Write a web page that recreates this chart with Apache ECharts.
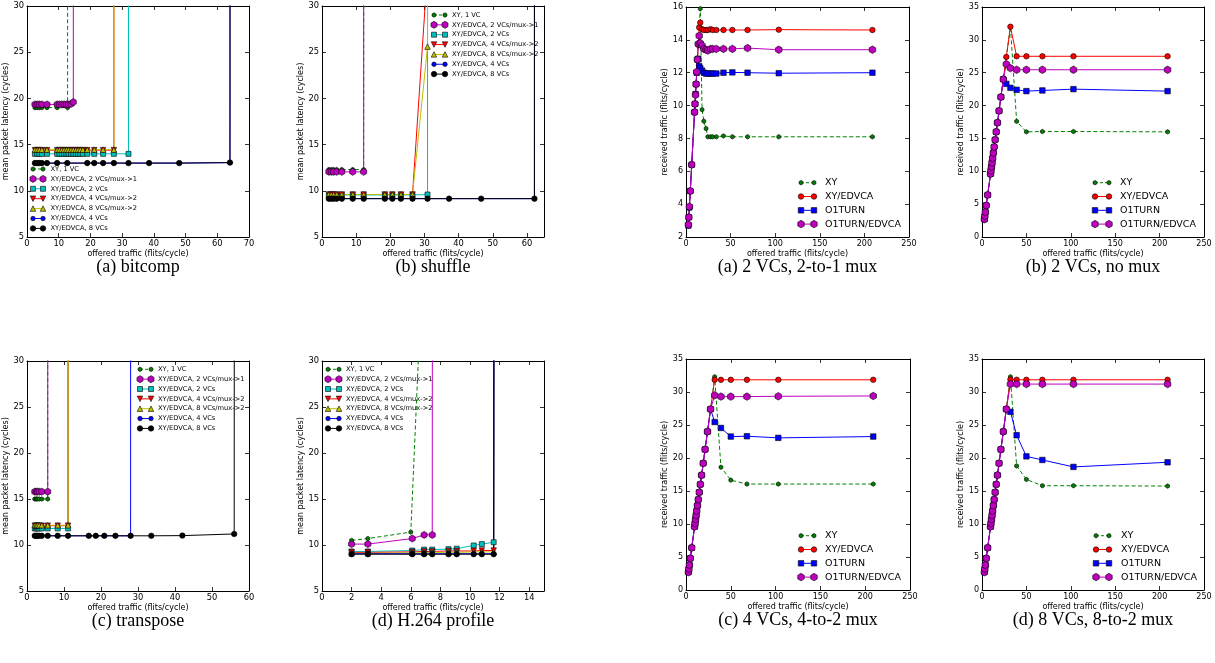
<!DOCTYPE html>
<html><head><meta charset="utf-8">
<script src="https://cdn.jsdelivr.net/npm/echarts@6/dist/echarts.min.js"></script>
<style>html,body{margin:0;padding:0;background:#fff}#c{width:1215px;height:663px}</style>
</head><body><div id="c"></div>
<script>
// ---------------- DATA ----------------
// Latency panels: [offered traffic, mean packet latency]; a huge latency marks saturation
const bitcompXY1   = [[2.5,19.0],[3.2,19.0],[3.9,19.0],[4.7,19.0],[6.3,19.0],[9.5,19.0],[12.8,19.0],[12.85,200]];
const bitcompMux1  = [[2.5,19.35],[3.2,19.35],[3.9,19.35],[4.7,19.35],[6.3,19.35],[9.5,19.35],[10.2,19.35],[11.0,19.35],[11.7,19.35],[12.4,19.35],[13.1,19.35],[13.9,19.4],[14.6,19.6],[14.7,200]];
const bitcompVC2   = [[2.5,14.0],[3.2,14.0],[3.9,14.0],[4.7,14.0],[6.3,14.0],[9.5,14.0],[10.2,14.0],[11.0,14.0],[11.7,14.0],[12.4,14.0],[13.1,14.0],[13.9,14.0],[14.6,14.0],[15.4,14.0],[16.1,14.0],[16.8,14.0],[17.6,14.0],[19.0,14.0],[21.2,14.0],[24.0,14.0],[27.4,14.0],[32.0,14.0],[32.05,200]];
const bitcompMux42 = [[2.5,14.4],[3.2,14.4],[3.9,14.4],[4.7,14.4],[6.3,14.4],[9.5,14.4],[10.2,14.4],[11.0,14.4],[11.7,14.4],[12.4,14.4],[13.1,14.4],[13.9,14.4],[14.6,14.4],[15.4,14.4],[16.1,14.4],[16.8,14.4],[17.6,14.4],[19.0,14.4],[21.2,14.4],[24.0,14.4],[27.4,14.4],[27.45,200]];
const bitcompMux82 = [[2.5,14.45],[3.2,14.45],[3.9,14.45],[4.7,14.45],[6.3,14.45],[9.5,14.45],[10.2,14.45],[11.0,14.45],[11.7,14.45],[12.4,14.45],[13.1,14.45],[13.9,14.45],[14.6,14.45],[15.4,14.45],[16.1,14.45],[16.8,14.45],[17.6,14.45],[19.0,14.45],[21.2,14.45],[24.0,14.45],[27.4,14.45],[27.5,200]];
const bitcompVC4   = [[2.5,13.0],[3.2,13.0],[3.9,13.0],[4.7,13.0],[6.3,13.0],[9.5,13.0],[12.7,13.0],[19.0,13.0],[21.2,13.0],[24.0,13.0],[27.4,13.0],[32.0,13.0],[38.5,13.0],[48.0,13.0],[64.0,13.05],[64.0,200]];
const bitcompVC8   = [[2.5,13.0],[3.2,13.0],[3.9,13.0],[4.7,13.0],[6.3,13.0],[9.5,13.0],[12.7,13.0],[19.0,13.0],[21.2,13.0],[24.0,13.0],[27.4,13.0],[32.0,13.0],[38.5,13.0],[48.0,13.0],[64.0,13.05],[64.1,200]];

const shuffleXY1   = [[2.0,12.3],[2.7,12.3],[3.4,12.3],[4.3,12.3],[5.8,12.3],[9.0,12.3],[12.2,12.3],[12.25,200]];
const shuffleMux1  = [[2.0,12.05],[2.7,12.05],[3.4,12.05],[4.3,12.05],[5.8,12.05],[9.0,12.05],[12.2,12.05],[12.3,200]];
const shuffleVC2   = [[2.0,9.55],[2.7,9.55],[3.4,9.55],[4.3,9.55],[5.8,9.55],[9.0,9.55],[12.2,9.55],[18.4,9.55],[20.6,9.55],[23.1,9.55],[26.5,9.55],[30.9,9.6],[31.0,200]];
const shuffleMux42 = [[2.0,9.6],[2.7,9.6],[3.4,9.6],[4.3,9.6],[5.8,9.6],[9.0,9.6],[12.2,9.6],[18.4,9.6],[20.6,9.6],[23.1,9.6],[26.5,9.6],[30.9,33.9],[31.0,200]];
const shuffleMux82 = [[2.0,9.6],[2.7,9.6],[3.4,9.6],[4.3,9.6],[5.8,9.6],[9.0,9.6],[12.2,9.6],[18.4,9.6],[20.6,9.6],[23.1,9.6],[26.5,9.6],[30.9,25.6],[31.0,200]];
const shuffleVC4   = [[2.0,9.15],[2.7,9.15],[3.4,9.15],[4.3,9.15],[5.8,9.15],[9.0,9.15],[12.2,9.15],[18.4,9.15],[20.6,9.15],[23.1,9.15],[26.5,9.15],[30.9,9.15],[37.2,9.15],[46.6,9.15],[62.2,9.15],[62.25,200]];
const shuffleVC8   = [[2.0,9.15],[2.7,9.15],[3.4,9.15],[4.3,9.15],[5.8,9.15],[9.0,9.15],[12.2,9.15],[18.4,9.15],[20.6,9.15],[23.1,9.15],[26.5,9.15],[30.9,9.15],[37.2,9.15],[46.6,9.15],[62.2,9.15],[62.2,200]];

const transXY1   = [[2.1,15.0],[2.5,15.0],[2.8,15.0],[3.3,15.0],[4.0,15.0],[5.6,15.0],[5.65,200]];
const transMux1  = [[2.1,15.8],[2.5,15.8],[2.8,15.8],[3.3,15.8],[4.0,15.8],[5.6,15.8],[5.65,200]];
const transVC2   = [[2.1,11.8],[2.5,11.8],[2.8,11.8],[3.3,11.8],[4.0,11.8],[5.6,11.8],[8.3,11.8],[11.1,11.8],[11.2,200]];
const transMux42 = [[2.1,12.1],[2.5,12.1],[2.8,12.1],[3.3,12.1],[4.0,12.1],[5.6,12.1],[8.3,12.1],[11.1,12.1],[11.2,200]];
const transMux82 = [[2.1,12.15],[2.5,12.15],[2.8,12.15],[3.3,12.15],[4.0,12.15],[5.6,12.15],[8.3,12.15],[11.1,12.15],[11.25,200]];
const transVC4   = [[2.1,11.0],[2.5,11.0],[2.8,11.0],[3.3,11.0],[4.0,11.0],[5.6,11.0],[8.3,11.0],[11.1,11.0],[16.7,11.0],[18.6,11.0],[20.9,11.0],[23.9,11.0],[28.0,11.0],[28.05,200]];
const transVC8   = [[2.1,11.0],[2.5,11.0],[2.8,11.0],[3.3,11.0],[4.0,11.0],[5.6,11.0],[8.3,11.0],[11.1,11.0],[16.7,11.0],[18.6,11.0],[20.9,11.0],[23.9,11.0],[28.0,11.0],[33.6,11.0],[42.0,11.02],[56.0,11.2],[56.2,200]];

const h264XY1   = [[2.0,10.5],[3.1,10.7],[6.0,11.4],[6.6,33.5]];
const h264Mux1  = [[2.0,10.1],[3.1,10.1],[6.1,10.7],[6.9,11.1],[7.45,11.1],[7.5,200]];
const h264VC2   = [[2.0,9.3],[3.1,9.3],[6.1,9.4],[6.9,9.5],[7.45,9.5],[8.55,9.55],[9.1,9.6],[10.25,9.95],[10.8,10.1],[11.6,10.3],[11.65,200]];
const h264Mux42 = [[2.0,9.2],[3.1,9.2],[6.1,9.25],[6.9,9.3],[7.45,9.3],[8.55,9.35],[9.1,9.35],[10.25,9.35],[10.8,9.4],[11.6,9.4],[11.7,200]];
const h264Mux82 = [[2.0,9.1],[3.1,9.1],[6.1,9.15],[6.9,9.15],[7.45,9.2],[8.55,9.2],[9.1,9.2],[10.25,9.25],[10.8,9.25],[11.6,9.25],[11.75,200]];
const h264VC4   = [[2.0,9.05],[3.1,9.05],[6.1,9.05],[6.9,9.05],[7.45,9.05],[8.55,9.05],[9.1,9.05],[10.25,9.05],[10.8,9.05],[11.6,9.05],[11.8,200]];
const h264VC8   = [[2.0,9.0],[3.1,9.0],[6.1,9.0],[6.9,9.0],[7.45,9.0],[8.55,9.0],[9.1,9.0],[10.25,9.0],[10.8,9.0],[11.6,9.0],[11.65,200]];

// Throughput panels: offered traffic (x) and received traffic (y)
const offeredMux21 = [2.7,3.2,3.8,4.8,6.4,9.6,10.1,10.7,11.3,12,12.8,13.7,14.8,16,18,20,22.5,24.5,27.5,30,34,42,52,69,104,209];
const mux21XY   = [2.7,3.2,3.8,4.8,6.4,9.6,10.1,10.7,11.3,12,12.8,13.7,14.8,15.9,9.75,9.05,8.6,8.1,8.1,8.1,8.1,8.15,8.1,8.1,8.1,8.1];
const mux21XYED = [2.7,3.2,3.8,4.8,6.4,9.6,10.1,10.7,11.3,12,12.8,13.7,14.75,15.05,14.65,14.6,14.6,14.6,14.65,14.6,14.6,14.6,14.6,14.6,14.62,14.6];
const mux21O1   = [2.7,3.2,3.8,4.8,6.4,9.6,10.1,10.7,11.3,12,12.8,12.85,12.4,12.28,12.13,12.0,11.95,11.95,11.95,11.95,11.95,12.0,12.02,12.0,11.97,12.0];
const mux21O1ED = [2.75,3.2,3.85,4.8,6.4,9.6,10.1,10.65,11.3,12.05,12.8,13.75,14.25,13.8,13.65,13.45,13.4,13.35,13.45,13.45,13.45,13.45,13.45,13.5,13.4,13.4];

const offered = [2.7,3.2,3.8,4.8,6.4,9.6,10.1,10.7,11.3,12,12.8,13.7,14.8,16,17.4,19.2,21.3,24,27.4,32,39,50,68,103,209];
const nomuxXY   = [2.7,3.2,3.8,4.8,6.4,9.6,10.1,10.7,11.3,12,12.8,13.7,14.8,16,17.4,19.2,21.3,24,27.4,32,17.6,16.0,16.05,16.05,16.0];
const nomuxXYED = [2.7,3.2,3.8,4.8,6.4,9.6,10.1,10.7,11.3,12,12.8,13.7,14.8,16,17.4,19.2,21.3,24,27.4,32.0,27.5,27.5,27.5,27.5,27.5];
const nomuxO1   = [2.7,3.2,3.8,4.8,6.4,9.6,10.1,10.7,11.3,12,12.8,13.7,14.8,16,17.4,19.2,21.3,24,23.3,22.7,22.4,22.2,22.3,22.5,22.2];
const nomuxO1ED = [2.7,3.2,3.8,4.8,6.4,9.6,10.1,10.7,11.3,12,12.8,13.7,14.8,16,17.4,19.2,21.3,24,26.3,25.7,25.45,25.45,25.45,25.45,25.45];

const mux42XY   = [2.7,3.2,3.8,4.8,6.4,9.6,10.1,10.7,11.3,12,12.8,13.7,14.8,16,17.4,19.2,21.3,24,27.4,32.3,18.6,16.65,16.05,16.05,16.05];
const mux42XYED = [2.7,3.2,3.8,4.8,6.4,9.6,10.1,10.7,11.3,12,12.8,13.7,14.8,16,17.4,19.2,21.3,24,27.4,31.85,31.85,31.85,31.85,31.85,31.85];
const mux42O1   = [2.7,3.2,3.8,4.8,6.4,9.6,10.1,10.7,11.3,12,12.8,13.7,14.8,16,17.4,19.2,21.3,24,27.4,25.45,24.55,23.25,23.3,23.05,23.25];
const mux42O1ED = [2.7,3.2,3.8,4.8,6.4,9.6,10.1,10.7,11.3,12,12.8,13.7,14.8,16,17.4,19.2,21.3,24,27.4,29.5,29.3,29.3,29.3,29.35,29.4];

const mux82XY   = [2.7,3.2,3.8,4.8,6.4,9.6,10.1,10.7,11.3,12,12.8,13.7,14.8,16,17.4,19.2,21.3,24,27.4,32.3,18.8,16.75,15.8,15.8,15.75];
const mux82XYED = [2.7,3.2,3.8,4.8,6.4,9.6,10.1,10.7,11.3,12,12.8,13.7,14.8,16,17.4,19.2,21.3,24,27.4,31.9,31.85,31.85,31.85,31.85,31.85];
const mux82O1   = [2.7,3.2,3.8,4.8,6.4,9.6,10.1,10.7,11.3,12,12.8,13.7,14.8,16,17.4,19.2,21.3,24,27.4,27.0,23.45,20.25,19.7,18.65,19.35];
const mux82O1ED = [2.7,3.2,3.8,4.8,6.4,9.6,10.1,10.7,11.3,12,12.8,13.7,14.8,16,17.4,19.2,21.3,24,27.4,31.2,31.2,31.2,31.2,31.2,31.2];

// Labels
const latNames = ['XY, 1 VC','XY/EDVCA, 2 VCs/mux->1','XY/EDVCA, 2 VCs','XY/EDVCA, 4 VCs/mux->2','XY/EDVCA, 8 VCs/mux->2','XY/EDVCA, 4 VCs','XY/EDVCA, 8 VCs'];
const thrNames = ['XY','XY/EDVCA','O1TURN','O1TURN/EDVCA'];
const captions = ['(a) bitcomp','(b) shuffle','(c) transpose','(d) H.264 profile','(a) 2 VCs, 2-to-1 mux','(b) 2 VCs, no mux','(c) 4 VCs, 4-to-2 mux','(d) 8 VCs, 8-to-2 mux'];
const xTitle = 'offered traffic (flits/cycle)';
const latTitle = 'mean packet latency (cycles)';
const thrTitle = 'received traffic (flits/cycle)';
// axis ranges [min,max,interval]
const xRanges = [[0,70,10],[0,65,10],[0,60,10],[0,15,2],[0,250,50],[0,250,50],[0,250,50],[0,250,50]];
const yRanges = [[5,30,5],[5,30,5],[5,30,5],[5,30,5],[2,16,2],[0,35,5],[0,35,5],[0,35,5]];

// ---------------- STYLE / LAYOUT ----------------
const FONT = 'DejaVu Sans';
const boxes = [[27,6,222,231],[322,6,222,231],[27,361,222,230],[322,361,222,230],
               [686,7,223,230],[982,7,222,230],[686,359,224,231],[982,359,222,231]];
const latStyles = [
  {color:'#008000', sym:'hex', size:4.5, dash:true},
  {color:'#bf00bf', sym:'hex', size:7},
  {color:'#00bfbf', sym:'rect', size:5},
  {color:'#ff0000', sym:'tridown', size:5.5},
  {color:'#bfbf00', sym:'triangle', size:5.5},
  {color:'#0000ff', sym:'circle', size:4.5},
  {color:'#000000', sym:'circle', size:5.5}
];
const thrStyles = [
  {color:'#008000', sym:'hex', size:4.5, dash:true},
  {color:'#ff0000', sym:'circle', size:5.5},
  {color:'#0000ff', sym:'rect', size:5.5},
  {color:'#bf00bf', sym:'hex', size:7.5}
];
const HEX = 'path://M0,-10 L8.66,-5 L8.66,5 L0,10 L-8.66,5 L-8.66,-5 Z';

const latData = [
  [bitcompXY1,bitcompMux1,bitcompVC2,bitcompMux42,bitcompMux82,bitcompVC4,bitcompVC8],
  [shuffleXY1,shuffleMux1,shuffleVC2,shuffleMux42,shuffleMux82,shuffleVC4,shuffleVC8],
  [transXY1,transMux1,transVC2,transMux42,transMux82,transVC4,transVC8],
  [h264XY1,h264Mux1,h264VC2,h264Mux42,h264Mux82,h264VC4,h264VC8]
];
const thrData = [
  [offeredMux21,[mux21XY,mux21XYED,mux21O1,mux21O1ED]],
  [offered,[nomuxXY,nomuxXYED,nomuxO1,nomuxO1ED]],
  [offered,[mux42XY,mux42XYED,mux42O1,mux42O1ED]],
  [offered,[mux82XY,mux82XYED,mux82O1,mux82O1ED]]
];

const grids = [], xAxes = [], yAxes = [], series = [], graphics = [];
boxes.forEach((b,i)=>{
  grids.push({left:b[0],top:b[1],width:b[2],height:b[3],containLabel:false,show:false});
  const xr = xRanges[i], yr = yRanges[i];
  const tick = {show:true,inside:true,length:4,lineStyle:{color:'#000',width:0.8}};
  const line = {show:true,onZero:false,lineStyle:{color:'#000',width:1}};
  const fsz = i<4 ? 8.3 : 8;
  const lbl = {fontSize:fsz,color:'#000',fontFamily:FONT,margin:3};
  const hideMax = (xr[1]-xr[0]) % xr[2] !== 0;
  xAxes.push({gridIndex:i,type:'value',position:'bottom',min:xr[0],max:xr[1],interval:xr[2],
    axisLine:line,axisTick:tick,splitLine:{show:false},
    axisLabel:Object.assign({},lbl,{showMaxLabel:!hideMax}),
    name:xTitle,nameLocation:'middle',nameGap:13,nameTextStyle:{fontSize:8,color:'#000',fontFamily:FONT}});
  xAxes.push({gridIndex:i,type:'value',position:'top',min:xr[0],max:xr[1],interval:xr[2],
    axisLine:line,axisTick:tick,splitLine:{show:false},axisLabel:{show:false}});
  yAxes.push({gridIndex:i,type:'value',position:'left',min:yr[0],max:yr[1],interval:yr[2],
    axisLine:line,axisTick:tick,splitLine:{show:false},axisLabel:lbl,
    name:i<4?latTitle:thrTitle,nameLocation:'middle',nameGap:i<4?12:10,
    nameTextStyle:{fontSize:8,color:'#000',fontFamily:FONT}});
  yAxes.push({gridIndex:i,type:'value',position:'right',min:yr[0],max:yr[1],interval:yr[2],
    axisLine:line,axisTick:tick,splitLine:{show:false},axisLabel:{show:false}});
  graphics.push({type:'text',x:b[0]+b[2]/2,y:b[1]+b[3]+30,
    style:{text:captions[i],fontSize:18,fontFamily:'Liberation Serif',fill:'#000',align:'center',verticalAlign:'middle'}});
});

function mkSeries(i, name, data, st){
  return {type:'line',name:name,xAxisIndex:i*2,yAxisIndex:i*2,data:data,
    symbol: st.sym==='hex'?HEX:(st.sym==='tridown'?'triangle':st.sym),
    symbolRotate: st.sym==='tridown'?180:0, symbolKeepAspect:true,
    symbolSize: st.size, showAllSymbol:true, clip:true, silent:true, animation:false,
    lineStyle:{color:st.color,width:1,type:st.dash?[4,2.5]:'solid'},
    itemStyle:{color:st.color,borderColor:'#000',borderWidth:0.6},
    emphasis:{disabled:true}};
}
latData.forEach((set,i)=>set.forEach((d,k)=>series.push(mkSeries(i,latNames[k],d,latStyles[k]))));
thrData.forEach((set,j)=>{
  const xs = set[0];
  set[1].forEach((ys,k)=>series.push(mkSeries(4+j,thrNames[k],xs.map((x,n)=>[x,ys[n]]),thrStyles[k])));
});

// legend drawing helpers
function marker(sym,cx,cy,s,color){
  const st = {fill:color,stroke:'#000',lineWidth:0.6};
  const h = s/2;
  if(sym==='circle') return {type:'circle',shape:{cx:cx,cy:cy,r:h},style:st,z:100};
  if(sym==='rect') return {type:'rect',shape:{x:cx-h,y:cy-h,width:s,height:s},style:st,z:100};
  if(sym==='triangle') return {type:'polygon',shape:{points:[[cx,cy-h],[cx+h,cy+h],[cx-h,cy+h]]},style:st,z:100};
  if(sym==='tridown') return {type:'polygon',shape:{points:[[cx,cy+h],[cx+h,cy-h],[cx-h,cy-h]]},style:st,z:100};
  const pts=[]; for(let a=0;a<6;a++){const t=Math.PI/3*a-Math.PI/2; pts.push([cx+h*Math.cos(t),cy+h*Math.sin(t)]);}
  return {type:'polygon',shape:{points:pts},style:st,z:100};
}
function legend(x1,x2,tx,y0,step,names,styles,fs){
  names.forEach((n,k)=>{
    const y=y0+k*step, st=styles[k];
    graphics.push({type:'line',shape:{x1:x1,y1:y,x2:x2,y2:y},style:{stroke:st.color,lineWidth:1,lineDash:st.dash?[3,2]:null},z:99});
    graphics.push(marker(st.sym,x1,y,st.size,st.color));
    graphics.push(marker(st.sym,x2,y,st.size,st.color));
    graphics.push({type:'text',x:tx,y:y,style:{text:n,fontSize:fs,fontFamily:FONT,fill:'#000',align:'left',verticalAlign:'middle'},z:100});
  });
}
legend(33,43,50.5,169,9.9,latNames,latStyles,6.7);
legend(434,445,452,15,9.85,latNames,latStyles,6.7);
legend(140,151,158,369.3,9.85,latNames,latStyles,6.7);
legend(328,339,346,369.3,9.85,latNames,latStyles,6.7);
legend(801,814,825,182.7,13.8,thrNames,thrStyles,9.5);
legend(1095,1109,1120,182.7,13.8,thrNames,thrStyles,9.5);
legend(801,814,825,535.7,13.8,thrNames,thrStyles,9.5);
legend(1096,1109,1121,535.7,13.8,thrNames,thrStyles,9.5);

const chart = echarts.init(document.getElementById('c'),null,{renderer:'canvas'});
chart.setOption({animation:false,grid:grids,xAxis:xAxes,yAxis:yAxes,series:series,graphic:graphics});
</script></body></html>
